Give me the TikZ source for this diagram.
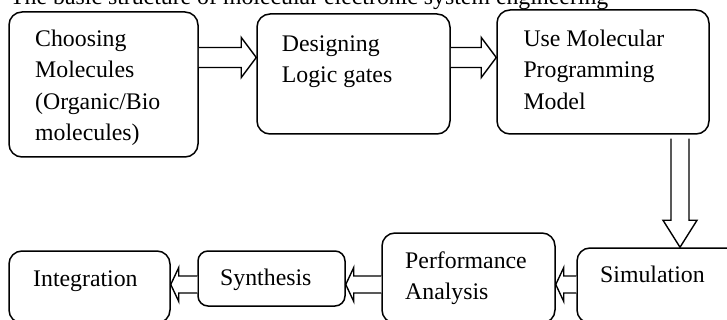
\documentclass[tikz,border=0pt]{standalone}
\usepackage{fontspec}
\setmainfont{Liberation Serif}
\usetikzlibrary{fit,calc}
\tikzset{
  box/.style={draw=black, line width=1.5pt, rounded corners=13pt, inner sep=0pt, fill=white},
  txt/.style={inner sep=0pt, align=left, font=\fontsize{23.8}{31.4}\selectfont},
  blk/.style={draw=black, line width=1.4pt, fill=white, line join=miter},
}
% block arrow: #1 tail, #2 tip, #3 shaft half width, #4 head half width, #5 head length
\newcommand\blockarrow[5]{%
  \path coordinate (bah) at ($(#2)!#5!(#1)$);
  \draw[blk] ($(#1)!#3!90:(#2)$) -- ($(bah)!#3!-90:(#1)$) -- ($(bah)!#4!-90:(#1)$)
    -- (#2) -- ($(bah)!#4!90:(#1)$) -- ($(bah)!#3!90:(#1)$) -- ($(#1)!#3!-90:(#2)$);
}
\begin{document}
\begin{tikzpicture}[x=1pt,y=-1pt]
\useasboundingbox (0,0) rectangle (727,320);
\fill[white] (0,0) rectangle (727,320);

% title
\node[txt, anchor=base west] (title) at (10,5) {The basic structure of molecular electronic system engineering};

% boxes
\node[box, fit={(9,12) (198,157)}] (b1) {};
\node[box, fit={(257,14) (450,134)}] (b2) {};
\node[box, fit={(497,10) (709,134)}] (b3) {};
\node[box, fit={(577,248) (745,323)}] (sim) {};
\node[box, fit={(382,233) (555,323)}] (perf) {};
\node[box, rounded corners=10pt, fit={(198,251) (345,306)}] (syn) {};
\node[box, fit={(9,251) (170,323)}] (integ) {};

% texts
\node[txt, anchor=north west] (t1) at (35,29.6) {Choosing\\Molecules\\(Organic/Bio\\molecules)};
\node[txt, anchor=north west] (t2) at (281.7,35.5) {Designing\\Logic gates};
\node[txt, anchor=north west] (t3) at (523.3,29.8) {Use Molecular\\Programming\\Model};
\node[txt, anchor=north west] (t4) at (405,251.4) {Performance\\Analysis};
\node[txt, anchor=base west] (t5) at (600,282.3) {Simulation};
\node[txt, anchor=base west] (t6) at (33,286.7) {Integration};
\node[txt, anchor=base west] (t7) at (220,285) {Synthesis};

% helper coordinates for arrow axes
\coordinate (ya) at (0,57.5);
\coordinate (yb) at (0,284.5);
\coordinate (xd) at (680,0);
\coordinate (d0) at (b3.south -| xd);
\coordinate (d1) at ([yshift=-4pt]d0);

% arrows
\blockarrow{b1.east |- ya}{b2.west |- ya}{10pt}{20pt}{15pt}
\blockarrow{b2.east |- ya}{b3.west |- ya}{10pt}{20pt}{15pt}
\blockarrow{d1}{sim.north -| xd}{9pt}{17pt}{27pt}
\blockarrow{sim.west |- yb}{perf.east |- yb}{8.5pt}{17pt}{8pt}
\blockarrow{perf.west |- yb}{syn.east |- yb}{8.5pt}{17pt}{8pt}
\blockarrow{syn.west |- yb}{integ.east |- yb}{8.5pt}{17pt}{8pt}
\end{tikzpicture}
\end{document}
